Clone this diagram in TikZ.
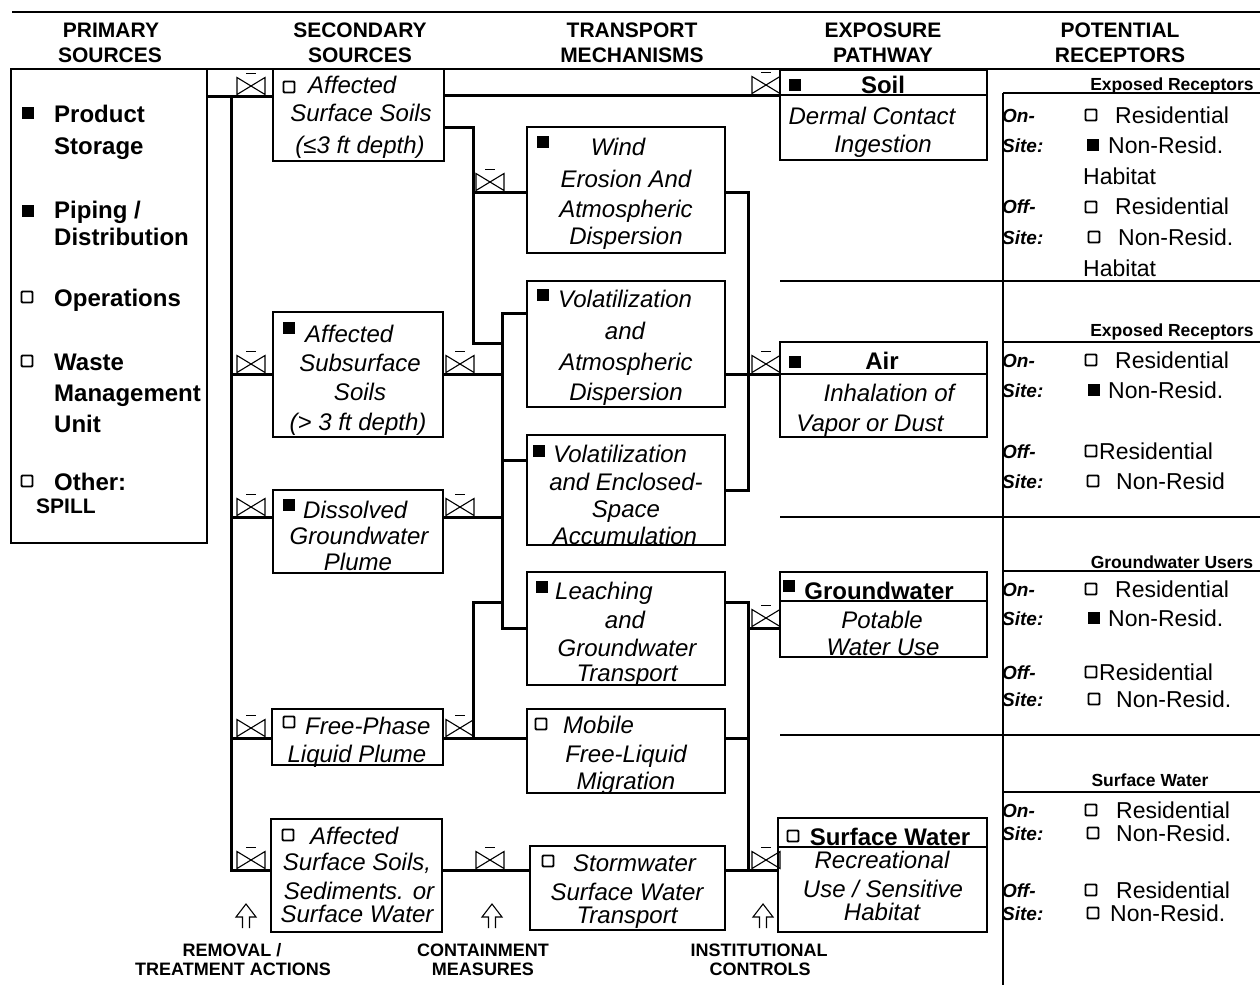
\documentclass[tikz,border=0pt]{standalone}
\usepackage{fontspec}
\setmainfont{Liberation Sans}
\tikzset{
  box/.style={draw, line width=2.5pt, inner sep=0pt, outer sep=0pt},
  conn/.style={line width=3pt},
  thinl/.style={line width=1.6pt},
  vl/.style={line width=1.1pt},
  fsq/.style={fill, minimum size=12.5pt, inner sep=0pt, outer sep=0pt},
  osq/.style={draw, line width=1.9pt, rounded corners=1pt, minimum size=11pt, inner sep=0pt, outer sep=0pt},
  hdr/.style={font=\fontsize{21}{24}\selectfont\bfseries, inner sep=0pt, anchor=base},
  pri/.style={font=\fontsize{24}{28}\selectfont\bfseries, inner sep=0pt, anchor=base west},
  itc/.style={font=\fontsize{24}{28}\selectfont\itshape, inner sep=0pt, anchor=base},
  itw/.style={font=\fontsize{24}{28}\selectfont\itshape, inner sep=0pt, anchor=base west},
  bfc/.style={font=\fontsize{24}{28}\selectfont\bfseries, inner sep=0pt, anchor=base},
  rec/.style={font=\fontsize{23}{27}\selectfont, inner sep=0pt, anchor=base west},
  site/.style={font=\fontsize{19}{22}\selectfont\bfseries\itshape, inner sep=0pt, anchor=base west},
  rhd/.style={font=\fontsize{17.5}{20}\selectfont\bfseries, inner sep=0pt, anchor=base},
  low/.style={font=\fontsize{18}{21}\selectfont\bfseries, inner sep=0pt, anchor=base},
  valve/.pic={\draw[vl] (0,0) -- (0,-17) -- (28,0) -- (28,-17) -- cycle; \draw[vl] (9,-21) -- (19,-21);},
  uparr/.pic={\draw[line width=1.1pt, line join=miter] (-3.5,0) -- (-3.5,-11) -- (-10,-11) -- (0,-24) -- (10,-11) -- (3.5,-11) -- (3.5,0);}
}
\begin{document}
\begin{tikzpicture}[x=1pt,y=-1pt]
\useasboundingbox (0,0) rectangle (1260,985);

% frame lines
\draw[line width=2pt] (12,12) -- (1260,12);
\draw[thinl] (10,69) -- (1260,69);

% headers
\node[hdr] (h1a) at (111,37) {PRIMARY};
\node[hdr] (h1b) at (110,62) {SOURCES};
\node[hdr] (h2a) at (360,37) {SECONDARY};
\node[hdr] (h2b) at (360,62) {SOURCES};
\node[hdr] (h3a) at (632,37) {TRANSPORT};
\node[hdr] (h3b) at (632,62) {MECHANISMS};
\node[hdr] (h4a) at (883,37) {EXPOSURE};
\node[hdr] (h4b) at (883,62) {PATHWAY};
\node[hdr] (h5a) at (1120,37) {POTENTIAL};
\node[hdr] (h5b) at (1120,62) {RECEPTORS};

% boxes
\node[box, minimum width=196pt, minimum height=474pt] (prim) at (109,306) {};
\node[box, minimum width=171pt, minimum height=92pt] (ass) at (358.5,115) {};
\node[box, minimum width=170pt, minimum height=125pt] (sub) at (358,374.5) {};
\node[box, minimum width=170pt, minimum height=83pt] (dis) at (358,531.5) {};
\node[box, minimum width=171pt, minimum height=56pt] (fpl) at (357.5,737) {};
\node[box, minimum width=171pt, minimum height=113pt] (asw) at (356.5,875.5) {};
\node[box, minimum width=198pt, minimum height=126pt] (wind) at (626,190) {};
\node[box, minimum width=198pt, minimum height=126pt] (vatm) at (626,344) {};
\node[box, minimum width=198pt, minimum height=110pt] (venc) at (626,490) {};
\node[box, minimum width=198pt, minimum height=113pt] (leach) at (626,628.5) {};
\node[box, minimum width=198pt, minimum height=84pt] (mob) at (626,751) {};
\node[box, minimum width=195pt, minimum height=84pt] (storm) at (627.5,888) {};
\node[box, minimum width=207pt, minimum height=90pt] (soil) at (883.5,115) {};
\node[box, minimum width=207pt, minimum height=95pt] (air) at (883.5,389.5) {};
\node[box, minimum width=207pt, minimum height=85pt] (gw) at (883.5,614.5) {};
\node[box, minimum width=209pt, minimum height=114pt] (sw) at (882.5,875) {};

% coordinates
\coordinate (lb1) at (231,96);
\coordinate (lb2) at (231,374);
\coordinate (lb3) at (231,517);
\coordinate (lb4) at (231,738);
\coordinate (lb5) at (231,870);
\coordinate (ma) at (473,127);
\coordinate (mb) at (473,343);
\coordinate (mw) at (473,192);
\coordinate (na) at (502,313);
\coordinate (nb) at (502,628);
\coordinate (nv) at (502,460);
\coordinate (pa) at (473,602);
\coordinate (topl) at (600,95);
\coordinate (ra) at (748,192);
\coordinate (rb) at (748,490);
\coordinate (rc) at (748,374);
\coordinate (rd) at (748,602);
\coordinate (re) at (748,628);
\coordinate (rf) at (748,738);
\coordinate (rg) at (748,870);
\coordinate (gd) at (880,601);
\coordinate (sd) at (880,847);

% dividers of exposure boxes
\draw[line width=2.4pt] (soil.west |- topl) -- (soil.east |- topl);
\draw[line width=2.4pt] (air.west |- rc) -- (air.east |- rc);
\draw[line width=2.4pt] (gw.west |- gd) -- (gw.east |- gd);
\draw[line width=2.4pt] (sw.west |- sd) -- (sw.east |- sd);

% connectors left
\draw[conn] (prim.east |- lb1) -- (ass.west |- lb1);
\draw[conn] (lb1) -- (lb5) -- (asw.west |- lb5);
\draw[conn] (lb2) -- (sub.west |- lb2);
\draw[conn] (lb3) -- (dis.west |- lb3);
\draw[conn] (lb4) -- (fpl.west |- lb4);

% connectors middle
\draw[conn] (ass.east |- ma) -- (ma) -- (mb) -- (mb -| na);
\draw[conn] (mw) -- (wind.west |- mw);
\draw[conn] (vatm.west |- na) -- (na) -- (nb) -- (leach.west |- nb);
\draw[conn] (nv) -- (venc.west |- nv);
\draw[conn] (sub.east |- lb2) -- (lb2 -| na);
\draw[conn] (dis.east |- lb3) -- (lb3 -| na);
\draw[conn] (pa -| na) -- (pa) -- (pa |- lb4);
\draw[conn] (fpl.east |- lb4) -- (mob.west |- lb4);
\draw[conn] (asw.east |- lb5) -- (storm.west |- lb5);

% connectors right
\draw[conn] (ass.east |- topl) -- (soil.west |- topl);
\draw[conn] (wind.east |- ra) -- (ra) -- (rb) -- (venc.east |- rb);
\draw[conn] (vatm.east |- rc) -- (air.west |- rc);
\draw[conn] (leach.east |- rd) -- (rd) -- (rg);
\draw[conn] (re) -- (gw.west |- re);
\draw[conn] (mob.east |- rf) -- (rf);
\draw[conn] (storm.east |- rg) -- (sw.west |- rg);

% valves
\pic at (237,94.5) {valve};
\pic at (237,372.5) {valve};
\pic at (237,515.5) {valve};
\pic at (237,736.5) {valve};
\pic at (237,868.5) {valve};
\pic at (446,372.5) {valve};
\pic at (446,515.5) {valve};
\pic at (446,736.5) {valve};
\pic at (476,190.5) {valve};
\pic at (476,868.5) {valve};
\pic at (752,93.5) {valve};
\pic at (752,372.5) {valve};
\pic at (752,626.5) {valve};
\pic at (752,868.5) {valve};

% primary sources
\node[fsq] (pm1) at (28,113) {};
\node[pri] (p1) at (54,122) {Product};
\node[pri] (p2) at (54,154) {Storage};
\node[fsq] (pm2) at (28,211) {};
\node[pri] (p3) at (54,218) {Piping /};
\node[pri] (p4) at (54,245) {Distribution};
\node[osq] (pm3) at (27,297) {};
\node[pri] (p5) at (54,306) {Operations};
\node[osq] (pm4) at (27,361) {};
\node[pri] (p6) at (54,370) {Waste};
\node[pri] (p7) at (54,401) {Management};
\node[pri] (p8) at (54,432) {Unit};
\node[osq] (pm5) at (27,481) {};
\node[pri] (p9) at (54,490) {Other:};
\node[font=\fontsize{21}{24}\selectfont\bfseries, inner sep=0pt, anchor=base west] (p10) at (36,513) {SPILL};

% secondary sources
\node[osq] (am1) at (289,87) {};
\node[itw] (a1) at (308,93) {Affected};
\node[itc] (a2) at (361,121) {Surface Soils};
\node[itc] (a3) at (360,153) {(≤3 ft depth)};
\node[fsq] (sm1) at (289,328) {};
\node[itw] (s1) at (305,342) {Affected};
\node[itc] (s2) at (360,371) {Subsurface};
\node[itc] (s3) at (360,400) {Soils};
\node[itc] (s4) at (358,430) {(> 3 ft depth)};
\node[fsq] (dm1) at (289,505) {};
\node[itw] (d1) at (303,518) {Dissolved};
\node[itc] (d2) at (359,544) {Groundwater};
\node[itc] (d3) at (358,570) {Plume};
\node[osq] (fm1) at (289,722) {};
\node[itw] (f1) at (305,734) {Free-Phase};
\node[itc] (f2) at (357,762) {Liquid Plume};
\node[osq] (wm1) at (288,835) {};
\node[itw] (w1) at (310,844) {Affected};
\node[itc] (w2) at (357,870) {Surface Soils,};
\node[itc] (w3) at (359,899) {Sediments. or};
\node[itc] (w4) at (357,922) {Surface Water};

% transport mechanisms
\node[fsq] (xm1) at (543,142) {};
\node[itc] (x1) at (618,155) {Wind};
\node[itc] (x2) at (626,187) {Erosion And};
\node[itc] (x3) at (626,217) {Atmospheric};
\node[itc] (x4) at (626,244) {Dispersion};
\node[fsq] (ym1) at (543,295) {};
\node[itw] (y1) at (558,307) {Volatilization};
\node[itc] (y2) at (625,339) {and};
\node[itc] (y3) at (626,370) {Atmospheric};
\node[itc] (y4) at (626,400) {Dispersion};
\node[fsq] (zm1) at (539,451) {};
\node[itw] (z1) at (553,462) {Volatilization};
\node[itc] (z2) at (626,490) {and Enclosed-};
\node[itc] (z3) at (626,517) {Space};
\node[itc] (z4) at (625,544) {Accumulation};
\node[fsq] (lm1) at (542,587) {};
\node[itw] (l1) at (555,599) {Leaching};
\node[itc] (l2) at (625,628) {and};
\node[itc] (l3) at (627,656) {Groundwater};
\node[itc] (l4) at (627,681) {Transport};
\node[osq] (om1) at (541,724) {};
\node[itw] (o1) at (563,733) {Mobile};
\node[itc] (o2) at (626,762) {Free-Liquid};
\node[itc] (o3) at (626,789) {Migration};
\node[osq] (qm1) at (548,861) {};
\node[itw] (q1) at (573,871) {Stormwater};
\node[itc] (q2) at (627,900) {Surface Water};
\node[itc] (q3) at (627,923) {Transport};

% exposure pathway
\node[fsq] (em1) at (795,85) {};
\node[bfc] (e1) at (883,93) {Soil};
\node[itc] (e2) at (872,124) {Dermal Contact};
\node[itc] (e3) at (883,152) {Ingestion};
\node[fsq] (em2) at (795,362) {};
\node[bfc] (e4) at (882,369) {Air};
\node[itc] (e5) at (889,401) {Inhalation of};
\node[itc] (e6) at (870,431) {Vapor or Dust};
\node[fsq] (em3) at (789,586) {};
\node[bfc] (e7) at (879,599) {Groundwater};
\node[itc] (e8) at (882,628) {Potable};
\node[itc] (e9) at (883,655) {Water Use};
\node[osq] (em4) at (793,836) {};
\node[bfc] (e10) at (890,845) {Surface Water};
\node[itc] (e11) at (882,868) {Recreational};
\node[itc] (e12) at (883,897) {Use / Sensitive};
\node[itc] (e13) at (882,920) {Habitat};

% receptors
\node[rhd] (g1) at (1172,90) {Exposed Receptors};
\node[rhd] (g2) at (1172,336) {Exposed Receptors};
\node[rhd] (g3) at (1172,568) {Groundwater Users};
\node[rhd] (g4) at (1150,786) {Surface Water};

\node[site] (c1) at (1002,122) {On-};
\node[site] (c2) at (1002,152) {Site:};
\node[site] (c3) at (1002,213) {Off-};
\node[site] (c4) at (1002,244) {Site:};
\node[osq] (k1) at (1091,115) {};
\node[rec] (r1) at (1115,123) {Residential};
\node[fsq] (k2) at (1093,145) {};
\node[rec] (r2) at (1108,153) {Non-Resid.};
\node[rec] (r3) at (1083,184) {Habitat};
\node[osq] (k3) at (1091,207) {};
\node[rec] (r4) at (1115,214) {Residential};
\node[osq] (k4) at (1094,237) {};
\node[rec] (r5) at (1118,245) {Non-Resid.};
\node[rec] (r6) at (1083,276) {Habitat};

\node[site] (c5) at (1002,367) {On-};
\node[site] (c6) at (1002,397) {Site:};
\node[site] (c7) at (1002,458) {Off-};
\node[site] (c8) at (1002,488) {Site:};
\node[osq] (k5) at (1091,360) {};
\node[rec] (r7) at (1115,368) {Residential};
\node[fsq] (k6) at (1094,390) {};
\node[rec] (r8) at (1108,398) {Non-Resid.};
\node[osq] (k7) at (1091,451) {};
\node[rec] (r9) at (1099,459) {Residential};
\node[osq] (k8) at (1093,481) {};
\node[rec] (r10) at (1116,489) {Non-Resid};

\node[site] (c9) at (1002,596) {On-};
\node[site] (c10) at (1002,625) {Site:};
\node[site] (c11) at (1002,679) {Off-};
\node[site] (c12) at (1002,706) {Site:};
\node[osq] (k9) at (1091,589) {};
\node[rec] (r11) at (1115,597) {Residential};
\node[fsq] (k10) at (1094,618) {};
\node[rec] (r12) at (1108,626) {Non-Resid.};
\node[osq] (k11) at (1091,672) {};
\node[rec] (r13) at (1099,680) {Residential};
\node[osq] (k12) at (1094,699) {};
\node[rec] (r14) at (1116,707) {Non-Resid.};

\node[site] (c13) at (1002,817) {On-};
\node[site] (c14) at (1002,840) {Site:};
\node[site] (c15) at (1002,897) {Off-};
\node[site] (c16) at (1002,920) {Site:};
\node[osq] (k13) at (1091,810) {};
\node[rec] (r15) at (1116,818) {Residential};
\node[osq] (k14) at (1093,833) {};
\node[rec] (r16) at (1116,841) {Non-Resid.};
\node[osq] (k15) at (1091,890) {};
\node[rec] (r17) at (1116,898) {Residential};
\node[osq] (k16) at (1093,913) {};
\node[rec] (r18) at (1110,921) {Non-Resid.};

% receptor grid lines
\draw[thinl] (1003,93) -- (1003,985);
\draw[thinl] (1003,93) -- (1260,93);
\draw[thinl] (780,281) -- (1260,281);
\draw[thinl] (1003,342) -- (1260,342);
\draw[thinl] (780,517) -- (1260,517);
\draw[thinl] (1003,571) -- (1260,571);
\draw[thinl] (780,735) -- (1260,735);
\draw[thinl] (1003,792) -- (1260,792);

% bottom arrows and labels
\pic at (246,928) {uparr};
\pic at (492,928) {uparr};
\pic at (763,928) {uparr};
\node[low] (b1) at (232,956) {REMOVAL /};
\node[low] (b2) at (233,975) {TREATMENT  ACTIONS};
\node[low] (b3) at (483,956) {CONTAINMENT};
\node[low] (b4) at (483,975) {MEASURES};
\node[low] (b5) at (759,956) {INSTITUTIONAL};
\node[low] (b6) at (760,975) {CONTROLS};
\end{tikzpicture}
\end{document}
